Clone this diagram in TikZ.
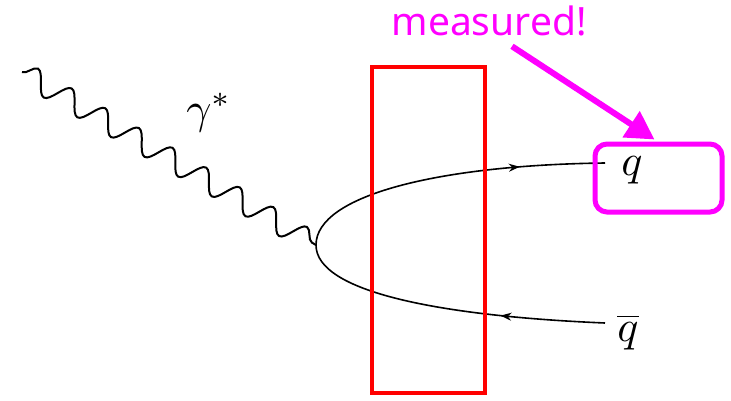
\documentclass[tikz,border=0pt]{standalone}
\usepackage{fontspec}
\newfontfamily\labelfont{Noto Sans}
\usetikzlibrary{decorations.pathmorphing,decorations.markings,arrows.meta}
\definecolor{mag}{RGB}{255,0,255}
\definecolor{rd}{RGB}{255,0,0}
\begin{document}
\begin{tikzpicture}[x=1pt,y=-1pt,
  photon/.style={line width=2pt, decorate, decoration={snake, segment length=39pt, amplitude=11pt}},
  fermion/.style={line width=1.6pt, postaction={decorate}, decoration={markings, mark=at position 0.73 with {\arrow{Stealth[length=11pt,width=8pt]}}}},
  antifermion/.style={line width=1.6pt, postaction={decorate}, decoration={markings, mark=at position 0.70 with {\arrow{Stealth[length=11pt,width=8pt,reversed]}}}},
  lbl/.style={inner sep=0pt, scale=4.4},
  redbox/.style={draw=rd, line width=4pt, minimum width=113pt, minimum height=326pt, inner sep=0pt},
  magbox/.style={draw=mag, line width=5pt, rounded corners=12pt, minimum width=127pt, minimum height=68pt, inner sep=0pt},
  magtext/.style={text=mag, font=\labelfont\fontsize{39}{44}\selectfont, inner sep=0pt},
  magarrow/.style={draw=mag, line width=6pt, -{Triangle[length=28pt,width=30pt]}}
]
\useasboundingbox (0,0) rectangle (731,400);
\coordinate (pstart) at (22,72);
\coordinate (v) at (316,245);
\coordinate (qe) at (605,163);
\coordinate (qbe) at (605,323);
\draw[photon] (pstart) -- (v);
\draw[fermion] (v) .. controls (316,195) and (440,165) .. (qe);
\draw[antifermion] (v) .. controls (316,292) and (440,316) .. (qbe);
\node[lbl] (gam) at (209,113) {$\gamma^*$};
\node[lbl] (q) at (632,170) {$q$};
\node[lbl] (qb) at (628,332) {$\overline{q}$};
\node[redbox] (cut) at (428.5,230) {};
\node[magbox] (meas) at (658.5,178) {};
\node[magtext] (mtxt) at (489,21) {measured!};
\draw[magarrow] ([xshift=23pt,yshift=-10pt]mtxt.south) -- ([xshift=-4pt,yshift=2pt]meas.north);
\end{tikzpicture}
\end{document}
